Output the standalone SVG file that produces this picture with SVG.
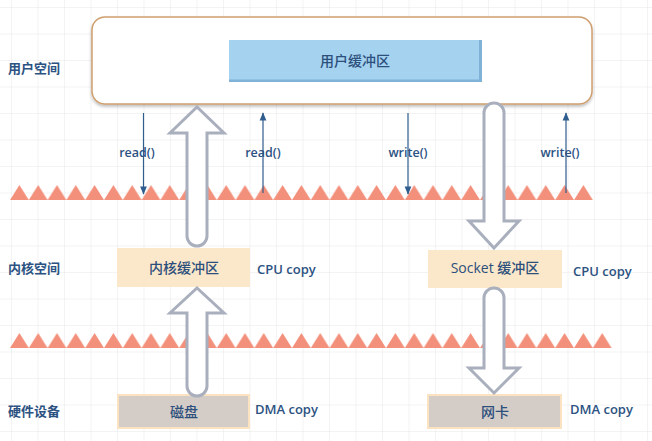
<svg xmlns="http://www.w3.org/2000/svg" width="652" height="441" viewBox="0 0 652 441">
<style>
.lbl{font-family:"Open Sans","Noto Sans CJK SC",sans-serif;fill:#2c5282;font-weight:600}
.side{font-size:13px;font-weight:600}
.call{font-size:12.5px;font-weight:600}
.copy{font-size:13px;font-weight:600}
.nodeT{font-size:14px;font-weight:500;fill:#2c4f7c}
.thin{stroke:#2f5d8e;stroke-width:1.2;fill:none}
.big{fill:#fff;stroke:#a9afbd;stroke-width:3;stroke-linejoin:miter}
.kbox{fill:#fbe7c9}
.hbox{fill:#d3ccc7;stroke:#fbe3c2;stroke-width:2}
</style>
<defs>
<pattern id="grid" x="11" y="7" width="26.5" height="26.5" patternUnits="userSpaceOnUse">
<path d="M0,0 V26.5 M0,0 H26.5" stroke="#e8e8e8" stroke-width="1" fill="none"/>
</pattern>
<pattern id="tri" x="10" y="0" width="18.8" height="441" patternUnits="userSpaceOnUse">
<path d="M0,200 L9.4,185 L18.8,200 Z M0,348 L9.4,333 L18.8,348 Z" fill="#f3907b"/>
</pattern>
<marker id="ah" viewBox="0 0 10 10" refX="9" refY="5" markerWidth="7" markerHeight="7" orient="auto">
<path d="M0,1 L10,5 L0,9 Z" fill="#2f5d8e"/>
</marker>
<filter id="sh" x="-5%" y="-10%" width="110%" height="130%">
<feDropShadow dx="0" dy="2" stdDeviation="1.5" flood-color="#000" flood-opacity="0.25"/>
</filter>
</defs>
<rect width="652" height="441" fill="#fff"/>
<rect width="652" height="441" fill="url(#grid)"/>

<g id="sideLabels" class="lbl side">
<text x="8" y="73">用户空间</text>
<text x="8" y="273">内核空间</text>
<text x="8" y="416">硬件设备</text>
</g>

<g id="boundaries">
<rect x="10" y="180" width="582.8" height="25" fill="url(#tri)"/>
<rect x="10" y="328" width="601.6" height="25" fill="url(#tri)"/>
</g>

<g id="userSpace">
<rect x="92" y="17" width="500" height="87" rx="13" fill="#fff" stroke="#cf9f6f" stroke-width="1.5" filter="url(#sh)"/>
</g>
<g id="userBuffer">
<rect x="229" y="40" width="253" height="42" fill="#7fb2d6"/>
<rect x="229" y="40" width="250" height="39.5" fill="#a4d2ef"/>
<text class="lbl nodeT" x="355" y="66" text-anchor="middle">用户缓冲区</text>
</g>

<g id="kernelBuffer">
<rect class="kbox" x="117" y="248" width="133" height="39"/>
<text class="lbl nodeT" x="184" y="273" text-anchor="middle">内核缓冲区</text>
</g>
<g id="socketBuffer">
<rect class="kbox" x="428" y="250" width="134" height="38"/>
<text class="lbl nodeT" x="495" y="273" text-anchor="middle">Socket 缓冲区</text>
</g>
<g id="disk">
<rect class="hbox" x="118" y="395" width="131" height="33"/>
<text class="lbl nodeT" x="184" y="417" text-anchor="middle">磁盘</text>
</g>
<g id="nic">
<rect class="hbox" x="428" y="395" width="133" height="33"/>
<text class="lbl nodeT" x="495" y="417" text-anchor="middle">网卡</text>
</g>

<g id="copyLabels" class="lbl copy">
<text x="257" y="274">CPU copy</text>
<text x="573" y="276">CPU copy</text>
<text x="255" y="414">DMA copy</text>
<text x="570" y="414">DMA copy</text>
</g>

<g id="connectors">
<path class="big" d="M197,107 L224,133 L207,133 L207,236 A10,10 0 0 1 187,236 L187,133 L170,133 Z"/>
<path class="big" d="M197,288 L224,313 L207,313 L207,386 A10,10 0 0 1 187,386 L187,313 L170,313 Z"/>
<path class="big" d="M494,248 L519,221 L504,221 L504,113 A10,10 0 0 0 484,113 L484,221 L469,221 Z"/>
<path class="big" d="M494,393 L519,368 L504,368 L504,298 A10,10 0 0 0 484,298 L484,368 L469,368 Z"/>
<line class="thin" x1="143.5" y1="113" x2="143.5" y2="194" marker-end="url(#ah)"/>
<line class="thin" x1="263" y1="193" x2="263" y2="113" marker-end="url(#ah)"/>
<line class="thin" x1="408" y1="113" x2="408" y2="194" marker-end="url(#ah)"/>
<line class="thin" x1="566" y1="193" x2="566" y2="113" marker-end="url(#ah)"/>
<g class="lbl call">
<text x="137" y="157" text-anchor="middle">read()</text>
<text x="263" y="157" text-anchor="middle">read()</text>
<text x="408" y="157" text-anchor="middle">write()</text>
<text x="560" y="157" text-anchor="middle">write()</text>
</g>
</g>
</svg>
